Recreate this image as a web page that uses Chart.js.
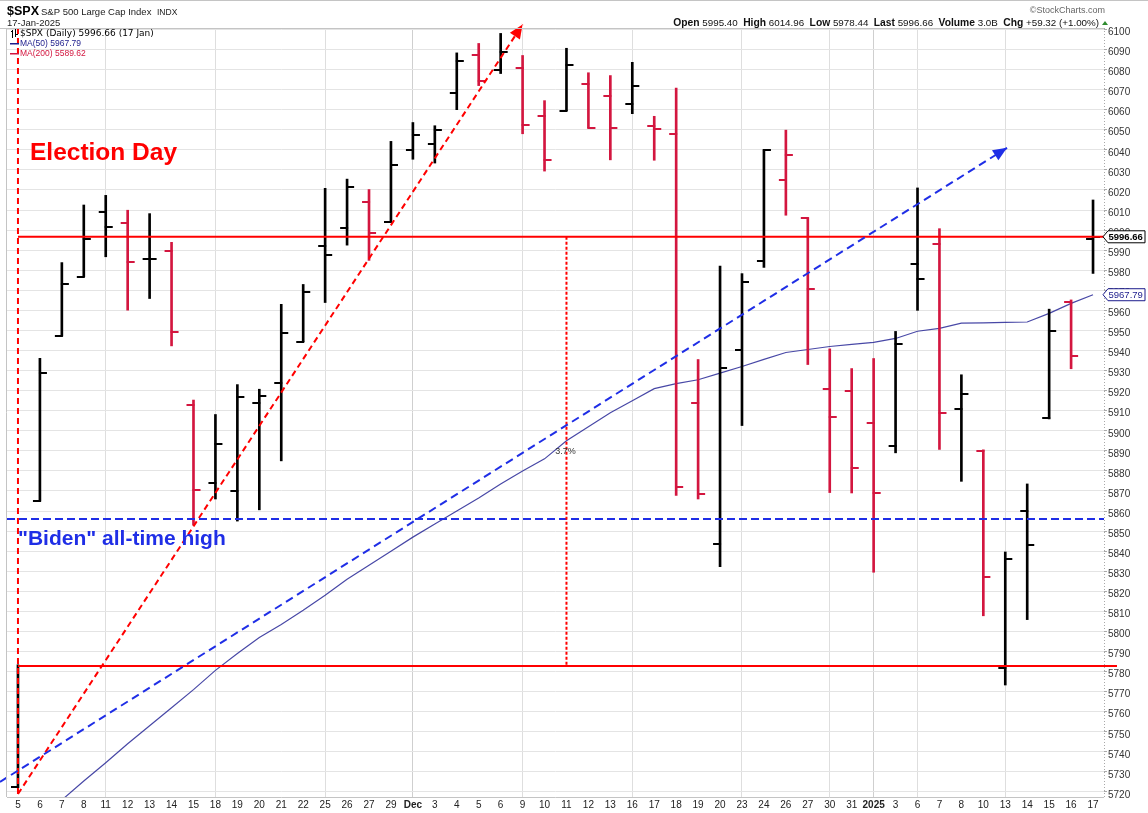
<!DOCTYPE html>
<html>
<head>
<meta charset="utf-8">
<title>$SPX S&amp;P 500 Large Cap Index</title>
<script src="https://cdn.jsdelivr.net/npm/chart.js@4.4.1/dist/chart.umd.min.js"></script>
<style>
    html, body { margin: 0; padding: 0; background: #fff; }
    #contenedor { width: 1148px; height: 813px; position: relative; }
</style>
</head>
<body>
<div id="contenedor"><canvas id="grafica"></canvas></div>
<script>

// DATOS

const dias = ['5', '6', '7', '8', '11', '12', '13', '14', '15', '18', '19', '20', '21', '22', '25', '26', '27', '29',
    'Dec', '3', '4', '5', '6', '9', '10', '11', '12', '13', '16', '17', '18', '19', '20', '23', '24', '26', '27', '30', '31',
    '2025', '3', '6', '7', '8', '10', '13', '14', '15', '16', '17'];

const apertura = [5722.4, 5864.9, 5947.2, 5976.8, 6008.9, 6003.6, 5985.8, 5989.7, 5912.8, 5874.2, 5870.0, 5914.0, 5924.0, 5944.4,
    5992.3, 6000.8, 6014.1, 6004.0, 6040.1, 6043.0, 6068.4, 6087.0, 6080.0, 6081.0, 6056.7, 6059.5, 6072.8, 6066.8, 6063.0,
    6051.8, 6047.7, 5913.8, 5843.5, 5940.3, 5984.6, 6025.0, 6006.2, 5921.0, 5920.0, 5904.0, 5892.5, 5983.0, 5993.3, 5911.0,
    5890.0, 5782.0, 5860.0, 5906.5, 5964.4, 5995.4];

const maximo = [5783.4, 5936.1, 5983.8, 6012.5, 6017.3, 6009.9, 6008.2, 5993.9, 5915.3, 5908.1, 5923.0, 5920.7, 5963.0, 5972.9,
    6020.8, 6025.4, 6020.2, 6044.2, 6053.6, 6052.0, 6088.3, 6093.0, 6098.0, 6087.0, 6064.5, 6090.6, 6078.4, 6077.0, 6083.6,
    6056.7, 6070.7, 5935.5, 5982.1, 5978.3, 6040.1, 6049.8, 6006.2, 5940.8, 5931.0, 5936.0, 5949.5, 6021.0, 6000.7, 5927.9,
    5890.5, 5839.6, 5873.5, 5960.6, 5965.2, 6015.0];

const minimo = [5722.1, 5864.9, 5947.2, 5976.8, 5986.7, 5960.1, 5965.9, 5942.3, 5853.0, 5866.0, 5855.0, 5860.6, 5885.0, 5944.4,
    5963.9, 5992.5, 5984.9, 6004.0, 6035.3, 6033.4, 6060.0, 6072.0, 6078.0, 6048.0, 6029.4, 6059.5, 6050.8, 6035.0, 6058.0,
    6034.8, 5867.8, 5866.0, 5832.3, 5902.6, 5981.4, 6007.4, 5933.0, 5869.2, 5869.0, 5829.5, 5889.0, 5960.0, 5890.7, 5874.8,
    5807.8, 5773.3, 5805.9, 5905.9, 5930.9, 5978.4];

const cierre = [5782.8, 5929.0, 5973.1, 5995.5, 6001.4, 5984.0, 5985.4, 5949.2, 5870.6, 5893.6, 5917.0, 5917.1, 5948.7, 5969.3,
    5987.4, 6021.6, 5998.7, 6032.4, 6047.2, 6049.9, 6084.5, 6074.5, 6088.7, 6052.5, 6034.9, 6082.5, 6050.8, 6050.7, 6072.0,
    6050.4, 5872.2, 5868.4, 5931.5, 5974.1, 6040.0, 6037.6, 5970.8, 5907.0, 5881.6, 5869.0, 5943.0, 5975.4, 5909.0, 5918.3,
    5827.0, 5836.2, 5842.9, 5949.9, 5937.3, 5996.66];

const media50 = [5698, 5707, 5716, 5725.5, 5734.6, 5744, 5753, 5762, 5771, 5780.6, 5789, 5797, 5803.5, 5810.5, 5818, 5826,
    5833, 5840, 5847, 5853.5, 5860, 5866.5, 5873.5, 5880, 5886, 5895, 5902, 5909, 5915, 5921, 5923.5, 5925.4, 5928.7, 5932,
    5935.6, 5939, 5940.5, 5942, 5943, 5944, 5946, 5949.6, 5951, 5953.6, 5953.8, 5954, 5954.2, 5958.5, 5963.5, 5967.79];

// inicio de cada semana / mes (lineas verticales)
const lineasSemana = [4, 9, 14, 18, 23, 28, 33, 37, 39, 41, 45];

// niveles dibujados a mano en el original
const nivelUltimo = 5996.66;
const nivelEleccion = 5782.76;
const nivelBiden = 5856;
const diaEleccion = 0;
const diaMedida = 25;
const flechaRoja = [[0, 5719], [23, 6102.5]];
const flechaAzul = [[-0.82, 5725], [45.08, 6041]];


// COLORES

const negro = '#000000';
const rojo = '#d3163f';
const rojoLinea = '#ff0000';
const azulLinea = '#1f2ee6';
const azulMedia = 'rgba(40, 40, 150, 0.85)';
const fuente = '"Liberation Sans", Arial, sans-serif';

function colorDia(i) {
    if (i === 0) return negro;
    return cierre[i] >= cierre[i - 1] ? negro : rojo;
}

function crearMarca(color, lado) {
    const c = document.createElement('canvas');
    c.width = 16;
    c.height = 2;
    const g = c.getContext('2d');
    g.fillStyle = color;
    if (lado === 'izq') g.fillRect(1, 0, 8, 2);
    else g.fillRect(7, 0, 8, 2);
    return c;
}

const marcas = {
    izqNegro: crearMarca(negro, 'izq'),
    izqRojo: crearMarca(rojo, 'izq'),
    derNegro: crearMarca(negro, 'der'),
    derRojo: crearMarca(rojo, 'der')
};


// PLUGINS

function linea(ctx, x1, y1, x2, y2, color, ancho, guiones) {
    ctx.save();
    ctx.strokeStyle = color;
    ctx.lineWidth = ancho;
    ctx.setLineDash(guiones || []);
    ctx.beginPath();
    ctx.moveTo(x1, y1);
    ctx.lineTo(x2, y2);
    ctx.stroke();
    ctx.restore();
}

function punta(ctx, x1, y1, x2, y2, color) {
    const ang = Math.atan2(y2 - y1, x2 - x1);
    const largo = 14, medio = 6;
    ctx.save();
    ctx.fillStyle = color;
    ctx.translate(x2, y2);
    ctx.rotate(ang);
    ctx.beginPath();
    ctx.moveTo(0, 0);
    ctx.lineTo(-largo, -medio);
    ctx.lineTo(-largo, medio);
    ctx.closePath();
    ctx.fill();
    ctx.restore();
}

const cabecera = {
    id: 'cabecera',
    beforeDraw(chart) {
        const ctx = chart.ctx;
        ctx.save();
        ctx.fillStyle = '#fff';
        ctx.fillRect(0, 0, chart.width, chart.height);

        ctx.strokeStyle = '#c4c4c4';
        ctx.lineWidth = 1;
        ctx.beginPath();
        ctx.moveTo(0, 0.5);
        ctx.lineTo(chart.width, 0.5);
        ctx.stroke();

        ctx.textBaseline = 'alphabetic';
        ctx.fillStyle = '#000';
        ctx.font = 'bold 12.5px ' + fuente;
        ctx.fillText('$SPX', 7, 15);
        ctx.font = '9.5px ' + fuente;
        ctx.fillStyle = '#222';
        ctx.fillText('S&P 500 Large Cap Index', 41, 14.5);
        ctx.font = '8.5px ' + fuente;
        ctx.fillText('INDX', 157, 14.5);
        ctx.font = '9.5px ' + fuente;
        ctx.fillText('17-Jan-2025', 7, 26);

        // linea de precios arriba a la derecha
        ctx.fillStyle = '#666';
        ctx.font = '9px ' + fuente;
        ctx.textAlign = 'right';
        ctx.fillText('\u00a9StockCharts.com', 1105, 13);

        const partes = [
            ['Open', true], [' 5995.40  ', false], ['High', true], [' 6014.96  ', false], ['Low', true], [' 5978.44  ', false],
            ['Last', true], [' 5996.66  ', false], ['Volume', true], [' 3.0B  ', false], ['Chg', true], [' +59.32 (+1.00%)', false]
        ];
        let xd = 1099;
        ctx.fillStyle = '#111';
        for (let i = partes.length - 1; i >= 0; i--) {
            ctx.font = (partes[i][1] ? 'bold 10.3px ' : '9.8px ') + fuente;
            ctx.fillText(partes[i][0], xd, 26);
            xd -= ctx.measureText(partes[i][0]).width;
        }
        ctx.fillStyle = '#2e8b2e';
        ctx.beginPath();
        ctx.moveTo(1102, 25);
        ctx.lineTo(1108, 25);
        ctx.lineTo(1105, 21);
        ctx.closePath();
        ctx.fill();
        ctx.restore();
    },
    afterDraw(chart) {
        const ctx = chart.ctx;
        const a = chart.chartArea;
        ctx.save();
        // borde del area
        ctx.strokeStyle = '#c4c4c4';
        ctx.lineWidth = 1;
        ctx.beginPath();
        ctx.moveTo(0, a.top + 0.5);
        ctx.lineTo(a.right, a.top + 0.5);
        ctx.moveTo(a.left - 0.5, a.top);
        ctx.lineTo(a.left - 0.5, a.bottom);
        ctx.moveTo(a.left, a.bottom + 0.5);
        ctx.lineTo(a.right, a.bottom + 0.5);
        ctx.stroke();
        // eje derecho punteado
        ctx.strokeStyle = '#a8a8a8';
        ctx.setLineDash([1, 2]);
        ctx.beginPath();
        ctx.moveTo(a.right + 0.5, a.top);
        ctx.lineTo(a.right + 0.5, a.bottom);
        ctx.stroke();
        ctx.setLineDash([]);

        // leyenda interior
        ctx.textBaseline = 'middle';
        ctx.textAlign = 'left';
        ctx.fillStyle = '#000';
        ctx.fillRect(12, 30, 1, 8);
        ctx.fillRect(11, 31, 1, 1);
        ctx.fillRect(15, 29, 1, 8);
        ctx.fillRect(16, 34, 2, 1);
        ctx.font = '9px "DejaVu Sans", sans-serif';
        ctx.fillText('$SPX (Daily) 5996.66 (17 Jan)', 20, 34);

        ctx.fillStyle = '#1c1c8c';
        ctx.fillRect(10, 43, 9, 1.5);
        ctx.font = '8.5px ' + fuente;
        ctx.fillText('MA(50) 5967.79', 20, 44);
        ctx.fillStyle = rojo;
        ctx.fillRect(10, 53, 9, 1.5);
        ctx.fillText('MA(200) 5589.62', 20, 54);

        // etiquetas de precio a la derecha
        const y = chart.scales.y;
        etiqueta(ctx, y.getPixelForValue(nivelUltimo), '5996.66', '#000', '#000', true);
        etiqueta(ctx, y.getPixelForValue(media50[media50.length - 1]), '5967.79', '#1c1c8c', '#1c1c8c', false);
        ctx.restore();
    }
};

function etiqueta(ctx, yc, texto, borde, color, negrita) {
    ctx.save();
    ctx.beginPath();
    ctx.moveTo(1103, yc);
    ctx.lineTo(1108, yc - 6);
    ctx.lineTo(1145, yc - 6);
    ctx.lineTo(1145, yc + 6);
    ctx.lineTo(1108, yc + 6);
    ctx.closePath();
    ctx.fillStyle = '#fff';
    ctx.fill();
    ctx.strokeStyle = borde;
    ctx.lineWidth = 1;
    ctx.stroke();
    ctx.fillStyle = color;
    ctx.font = (negrita ? 'bold ' : '') + '9.5px ' + fuente;
    ctx.textBaseline = 'middle';
    ctx.textAlign = 'left';
    ctx.fillText(texto, 1108.5, yc + 0.5);
    ctx.restore();
}

const anotaciones = {
    id: 'anotaciones',
    afterDatasetsDraw(chart) {
        const ctx = chart.ctx;
        const a = chart.chartArea;
        const x = chart.scales.x;
        const y = chart.scales.y;
        const px = v => x.getPixelForValue(v);
        const py = v => y.getPixelForValue(v);

        // dia de la eleccion
        linea(ctx, px(diaEleccion), a.top, px(diaEleccion), a.bottom, rojoLinea, 2, [6, 4]);

        // niveles horizontales
        linea(ctx, px(diaEleccion), py(nivelUltimo), a.right + 12, py(nivelUltimo), rojoLinea, 2);
        linea(ctx, px(diaEleccion), py(nivelEleccion), a.right + 13, py(nivelEleccion), rojoLinea, 2);
        linea(ctx, a.left, py(nivelBiden), a.right, py(nivelBiden), azulLinea, 2, [8, 4]);

        // medida 3.7%
        linea(ctx, px(diaMedida), py(nivelUltimo), px(diaMedida), py(nivelEleccion), rojoLinea, 2, [3, 2]);
        const pct = ((nivelUltimo / nivelEleccion - 1) * 100).toFixed(1) + '%';
        ctx.save();
        ctx.font = '9px ' + fuente;
        ctx.fillStyle = '#333';
        ctx.textAlign = 'center';
        ctx.textBaseline = 'middle';
        ctx.fillText(pct, px(diaMedida) - 1, py((nivelUltimo + nivelEleccion) / 2));
        ctx.restore();

        // flechas de tendencia
        let [p1, p2] = flechaRoja;
        linea(ctx, px(p1[0]), py(p1[1]), px(p2[0]), py(p2[1]), rojoLinea, 2, [6, 4]);
        punta(ctx, px(p1[0]), py(p1[1]), px(p2[0]), py(p2[1]), rojoLinea);
        [p1, p2] = flechaAzul;
        linea(ctx, px(p1[0]), py(p1[1]), px(p2[0]), py(p2[1]), azulLinea, 2, [8, 5]);
        punta(ctx, px(p1[0]), py(p1[1]), px(p2[0]), py(p2[1]), azulLinea);

        // textos
        ctx.save();
        ctx.textAlign = 'left';
        ctx.textBaseline = 'middle';
        ctx.fillStyle = rojoLinea;
        ctx.font = 'bold 24.5px ' + fuente;
        ctx.fillText('Election Day', 30, 153);
        ctx.fillStyle = azulLinea;
        ctx.font = 'bold 21px ' + fuente;
        ctx.fillText('"Biden" all-time high', 18, 539);
        ctx.restore();
    }
};


// GRAFICA

const ctx = document.getElementById('grafica').getContext('2d');

new Chart(ctx, {
    type: 'bar',
    data: {
        labels: dias,
        datasets: [
            {
                type: 'line',
                label: 'Cierre',
                data: cierre,
                showLine: false,
                pointRadius: 1,
                pointHoverRadius: 1,
                pointStyle: c => colorDia(c.dataIndex) === negro ? marcas.derNegro : marcas.derRojo,
                order: 0
            },
            {
                type: 'line',
                label: 'Apertura',
                data: apertura,
                showLine: false,
                pointRadius: 1,
                pointHoverRadius: 1,
                pointStyle: c => colorDia(c.dataIndex) === negro ? marcas.izqNegro : marcas.izqRojo,
                order: 0
            },
            {
                type: 'bar',
                label: 'Rango',
                data: minimo.map((v, i) => [v, maximo[i]]),
                backgroundColor: c => colorDia(c.dataIndex),
                borderWidth: 0,
                barThickness: 2,
                order: 1
            },
            {
                type: 'line',
                label: 'MA(50)',
                data: media50,
                borderColor: azulMedia,
                borderWidth: 1.2,
                pointRadius: 0,
                tension: 0,
                order: 10
            }
        ]
    },
    options: {
        responsive: true,
        maintainAspectRatio: false,
        animation: false,
        devicePixelRatio: 1,
        events: [],
        layout: { padding: { left: 7, top: 28, right: 0, bottom: 0 } },
        plugins: {
            legend: { display: false },
            tooltip: { enabled: false }
        },
        scales: {
            x: {
                offset: true,
                afterFit: s => { s.height = 16; },
                grid: {
                    offset: false,
                    drawTicks: false,
                    color: c => lineasSemana.includes(c.index) ? (c.index === 18 || c.index === 39 ? '#cfcfcf' : '#dedede') : 'rgba(0,0,0,0)'
                },
                border: { display: false },
                ticks: {
                    autoSkip: false,
                    maxRotation: 0,
                    padding: 2,
                    color: '#222',
                    font: c => ({
                        family: fuente,
                        size: 10,
                        weight: (c.tick && (c.tick.label === 'Dec' || c.tick.label === '2025')) ? 'bold' : 'normal'
                    })
                }
            },
            y: {
                position: 'right',
                min: 5717.5,
                max: 6100.7,
                afterFit: s => { s.width = 44; },
                grid: {
                    color: '#e4e4e4',
                    tickLength: 3,
                    tickColor: '#aaa'
                },
                border: { display: false },
                ticks: {
                    stepSize: 10,
                    includeBounds: false,
                    padding: 1,
                    labelOffset: 3,
                    color: '#333',
                    font: { family: fuente, size: 10 },
                    callback: v => String(v)
                }
            }
        }
    },
    plugins: [cabecera, anotaciones]
});

</script>
</body>
</html>
